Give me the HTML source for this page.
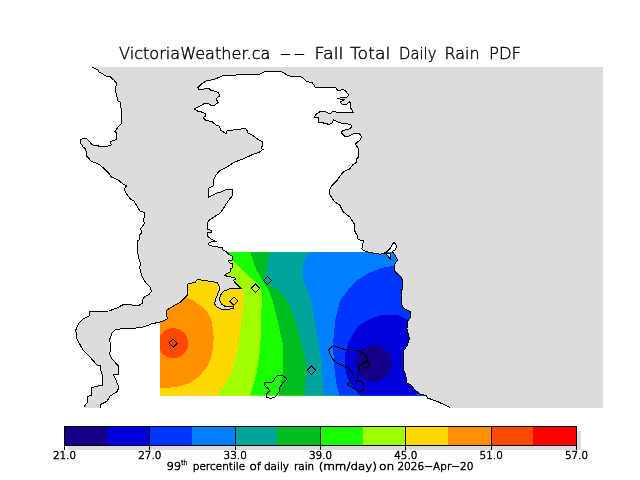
<!DOCTYPE html>
<html><head><meta charset="utf-8"><title>VictoriaWeather.ca</title>
<style>html,body{margin:0;padding:0;background:#fff;width:640px;height:480px;overflow:hidden}</style></head>
<body>
<svg width="640" height="480" viewBox="0 0 640 480" shape-rendering="crispEdges" style="position:absolute;left:0;top:0">
<defs><clipPath id="land"><polygon points="197.9,87.5 201.9,83.5 206.25,81 215,79.1 221.9,76 236.25,75 250,74.1 260,74.1 265,71.25 280.6,71.25 283.75,72.9 287.5,75.4 293.75,77 300,76.6 303.75,78.5 306.25,81.6 311.9,82.5 313.75,84.5 315,87.25 335.6,87.25 338.1,91 343.1,89.1 346.25,91.6 348.75,95.4 346.25,97.5 336.9,98.25 343.75,99.75 340,102.25 343.1,105 346.9,104.1 350,101.6 350.6,107.9 353.75,112.9 346.25,112.25 341.25,112.9 336.25,112.25 333.1,111 330,114.1 325.6,111.6 320,111.6 316.25,114.1 314.4,117.25 318.1,117.9 318.75,122.25 323.1,122.9 329.4,124.5 332.5,122.9 333.5,119.5 338.1,122.25 342.5,123.5 349.4,124.1 351.9,125.4 350.6,128.5 342.5,130.75 341.25,132.9 344.4,136 348.75,136.25 353.75,133.5 359.4,133.5 361.5,136.6 360,139.75 355.6,144.1 358.1,148.5 358.75,156.9 356.9,158.75 356.25,162.5 353.1,164.4 350,168.75 344.4,171.25 341.25,174.4 336.9,180.6 331.25,186.25 329.4,190.6 330,195 334.4,201.6 340,205.4 343.1,211.6 350,217.25 354.4,224.1 355,231.6 357.5,236 358.1,239.75 363.75,240.75 362.5,244.1 361.9,249.1 365.6,251.6 372.5,252.9 380,254.1 385,253.5 390,248.5 393.75,242.25 396.5,245.4 395.6,249.75 392,251.3 395.6,256 397.5,260.4 395.6,262.25 394.4,266 395,271.6 401.25,277.25 402.75,281.6 402.75,288.5 401,291 401.25,299.1 402.25,306.6 405,309.1 410.6,311.6 410.6,317.25 408.1,320.4 406.9,329.1 409.4,339.1 406.9,346 403.1,351.6 403.4,370 405.9,374.7 406.25,382.75 411,385 414.7,389.7 420.3,394.4 426,395.3 427.8,398.1 436.25,401 450.3,407.5 100,407.75 100.6,404.4 106.9,401.25 110,396.25 117.5,391.25 118.75,386.9 113.5,374.4 118.5,374.4 118.5,366.25 111.9,358.75 109.4,353.75 110.6,350 109.8,339.1 112.2,332.9 115.3,329.75 120,329 132.5,328.5 143.4,326.9 152.8,323.5 159.8,322.25 167.7,318.8 166.1,314.9 166.6,310.2 170,307.9 180,302.5 187.5,295 188,283.75 195,282.5 197.5,279.4 205,280.6 217.5,282.5 220,288.75 216.25,297.5 214.4,303.75 217.5,307.5 223.1,310 233.75,308.5 233.75,306.9 225,306.25 221.25,303.75 219.4,300 220.6,295 223.75,291.25 230,288.75 241.25,288.5 237.25,284.75 234.75,282.25 233.5,280.4 235.75,279.1 234.75,277.9 227.25,276.25 224.75,275.4 226.6,273.5 230.75,271.6 231,268.5 232.9,267.25 232.9,264.1 229.75,262.9 228.5,261 232.9,259.75 232.9,256.6 229.1,254.75 226,251.6 222.9,249.75 222.25,247.5 214.75,246.6 209.1,245.4 208.5,243.5 211.6,241.6 215.4,241.25 212.25,239.75 207.9,236.6 207.9,232.9 211.6,232.25 211.6,230.4 207.5,229.1 207.25,224.1 208.5,220.75 214.75,216.6 220.4,212.9 224.1,207.25 228.5,200.4 232.6,195.4 232.25,189.1 226.6,189.1 222.25,191.6 217.25,192.9 208.25,197.25 208.5,188.1 213.25,186 213.5,179.75 216,175 219.75,170.6 227.25,166.9 233.5,162.5 243.5,158.75 252.9,154.4 259.75,151.9 262.9,149.4 261,148.1 262.25,146.25 262.25,141.9 257.25,138.75 252.25,135 247.9,133.1 246.6,129.4 244.1,128.1 239.75,129.4 227.25,130.6 226,133.75 220.4,130 219.75,126.25 216,125 212.25,121.9 205.4,120 203.1,117.9 205.6,116 205,113.5 202.5,112.25 197.5,111 194.4,109.1 205,103.25 208.1,103.5 211.25,105.4 215,105 218.5,102.25 216.25,99.75 216.9,97.9 219.6,96 218.75,92.9 215.6,91.4 210.6,90.4 209.4,88.5 205.6,88.25 203.75,89.1 198.75,89.1 197.9,87.5"/></clipPath></defs>
<defs><clipPath id="box"><rect x="160" y="252" width="300" height="143.6"/></clipPath></defs>
<rect x="30" y="67" width="573" height="341" fill="#dcdcdc"/>
<polygon points="30,60 90.5,60 90.5,66 95,68.5 98,70 99,72 102,73.5 105,75.5 107,76.3 110.5,77 113.75,80 116.5,83.1 115.25,90 118.1,101.25 120,101.9 121.5,111.25 121.5,123.1 114.75,131.25 116.9,133.1 116.5,139.4 110.6,141.5 111.25,145 107.5,146.25 100,146.25 92.5,145 86.9,138.75 82.5,138.5 80.25,140 80.6,143.1 83.1,146.9 85.6,148.75 86.9,156.25 91.25,161.25 99.4,164.4 105,169.4 108.75,173.1 111.25,176.9 118.1,180 123.75,184.4 126.5,185.6 124.4,189.4 125.6,192.5 130.6,199.4 133.75,200.6 140,211.25 144.4,212.5 143.75,221.25 144.4,223.75 140.6,228.75 141.9,232.5 139.4,235 139.4,239.75 137.5,241 137.5,251 138.75,258.5 140.25,262.9 139.75,268.5 141.9,276 144.4,281 150,287.25 151.5,291 148.9,294.6 143.1,297.7 142.7,303.2 139.5,305 132.5,305 123.1,304.75 116.9,307.9 109,311 89.5,311.3 89.5,315.7 83.3,318.8 78.6,323.5 75.9,329.75 76.25,337.6 80.9,346.2 83.1,350 88.75,355.6 96.9,365 100.6,365.6 100,368.75 102.75,375.6 102.75,385 91.9,387.5 91.5,395 87.5,396.9 87.25,402.5 83.5,407.5 83.5,408 30,408" fill="#fff"/>
<polygon points="197.9,87.5 201.9,83.5 206.25,81 215,79.1 221.9,76 236.25,75 250,74.1 260,74.1 265,71.25 280.6,71.25 283.75,72.9 287.5,75.4 293.75,77 300,76.6 303.75,78.5 306.25,81.6 311.9,82.5 313.75,84.5 315,87.25 335.6,87.25 338.1,91 343.1,89.1 346.25,91.6 348.75,95.4 346.25,97.5 336.9,98.25 343.75,99.75 340,102.25 343.1,105 346.9,104.1 350,101.6 350.6,107.9 353.75,112.9 346.25,112.25 341.25,112.9 336.25,112.25 333.1,111 330,114.1 325.6,111.6 320,111.6 316.25,114.1 314.4,117.25 318.1,117.9 318.75,122.25 323.1,122.9 329.4,124.5 332.5,122.9 333.5,119.5 338.1,122.25 342.5,123.5 349.4,124.1 351.9,125.4 350.6,128.5 342.5,130.75 341.25,132.9 344.4,136 348.75,136.25 353.75,133.5 359.4,133.5 361.5,136.6 360,139.75 355.6,144.1 358.1,148.5 358.75,156.9 356.9,158.75 356.25,162.5 353.1,164.4 350,168.75 344.4,171.25 341.25,174.4 336.9,180.6 331.25,186.25 329.4,190.6 330,195 334.4,201.6 340,205.4 343.1,211.6 350,217.25 354.4,224.1 355,231.6 357.5,236 358.1,239.75 363.75,240.75 362.5,244.1 361.9,249.1 365.6,251.6 372.5,252.9 380,254.1 385,253.5 390,248.5 393.75,242.25 396.5,245.4 395.6,249.75 392,251.3 395.6,256 397.5,260.4 395.6,262.25 394.4,266 395,271.6 401.25,277.25 402.75,281.6 402.75,288.5 401,291 401.25,299.1 402.25,306.6 405,309.1 410.6,311.6 410.6,317.25 408.1,320.4 406.9,329.1 409.4,339.1 406.9,346 403.1,351.6 403.4,370 405.9,374.7 406.25,382.75 411,385 414.7,389.7 420.3,394.4 426,395.3 427.8,398.1 436.25,401 450.3,407.5 100,407.75 100.6,404.4 106.9,401.25 110,396.25 117.5,391.25 118.75,386.9 113.5,374.4 118.5,374.4 118.5,366.25 111.9,358.75 109.4,353.75 110.6,350 109.8,339.1 112.2,332.9 115.3,329.75 120,329 132.5,328.5 143.4,326.9 152.8,323.5 159.8,322.25 167.7,318.8 166.1,314.9 166.6,310.2 170,307.9 180,302.5 187.5,295 188,283.75 195,282.5 197.5,279.4 205,280.6 217.5,282.5 220,288.75 216.25,297.5 214.4,303.75 217.5,307.5 223.1,310 233.75,308.5 233.75,306.9 225,306.25 221.25,303.75 219.4,300 220.6,295 223.75,291.25 230,288.75 241.25,288.5 237.25,284.75 234.75,282.25 233.5,280.4 235.75,279.1 234.75,277.9 227.25,276.25 224.75,275.4 226.6,273.5 230.75,271.6 231,268.5 232.9,267.25 232.9,264.1 229.75,262.9 228.5,261 232.9,259.75 232.9,256.6 229.1,254.75 226,251.6 222.9,249.75 222.25,247.5 214.75,246.6 209.1,245.4 208.5,243.5 211.6,241.6 215.4,241.25 212.25,239.75 207.9,236.6 207.9,232.9 211.6,232.25 211.6,230.4 207.5,229.1 207.25,224.1 208.5,220.75 214.75,216.6 220.4,212.9 224.1,207.25 228.5,200.4 232.6,195.4 232.25,189.1 226.6,189.1 222.25,191.6 217.25,192.9 208.25,197.25 208.5,188.1 213.25,186 213.5,179.75 216,175 219.75,170.6 227.25,166.9 233.5,162.5 243.5,158.75 252.9,154.4 259.75,151.9 262.9,149.4 261,148.1 262.25,146.25 262.25,141.9 257.25,138.75 252.25,135 247.9,133.1 246.6,129.4 244.1,128.1 239.75,129.4 227.25,130.6 226,133.75 220.4,130 219.75,126.25 216,125 212.25,121.9 205.4,120 203.1,117.9 205.6,116 205,113.5 202.5,112.25 197.5,111 194.4,109.1 205,103.25 208.1,103.5 211.25,105.4 215,105 218.5,102.25 216.25,99.75 216.9,97.9 219.6,96 218.75,92.9 215.6,91.4 210.6,90.4 209.4,88.5 205.6,88.25 203.75,89.1 198.75,89.1 197.9,87.5" fill="#fff"/>
<g clip-path="url(#land)"><g clip-path="url(#box)">
<rect x="160" y="252" width="300" height="143.5" fill="#ff9000"/>
<circle cx="173.25" cy="343.25" r="15" fill="#ff4800"/>
<polygon points="186,297 192.5,300 201.25,306.25 207.5,312.5 211.25,320 213,330 213.75,337.5 213,348 211.25,357.5 207.5,366 202.5,372.5 197.5,377.5 192.5,381.25 186,384.3 180,386.25 170,387.6 160,388 160,396 455,396 455,250 186,250" fill="#ffd800"/>
<polygon points="241.25,288.25 243.5,294 243.75,300 242.5,310 241.25,320 238.75,345 232.5,370 225,385 217,395.5 217,396 455,396 455,250 225,250 225,288" fill="#a0ff00"/>
<polygon points="233.1,260.5 238.75,266.75 247.5,274.9 255,281.75 260,286.1 261.5,293 261.9,300.5 261.5,308 261.25,325 260,350 256.25,375 250,395.5 250,396 455,396 455,250 225,250 225,260.5" fill="#18ff00"/>
<polygon points="250,252 252.5,259.25 256.25,269.25 261.25,278.6 265,284.25 268.75,290.5 272.5,300.5 274.4,308 277.5,320 282.5,342.5 283.3,360 282.75,372.5 280.6,385 279,395.6 279,396 455,396 455,250 250,250" fill="#00be20"/>
<polygon points="270,252 268.5,258 267.25,265 266,273.75 264.3,279.4 266,282.5 272.25,286.25 278.5,290 284.75,297.5 287.3,300 295.6,320.8 300.8,341.7 306,362.5 305.4,383 304,395.5 304,396 455,396 455,250 270,250" fill="#00a49a"/>
<polygon points="309.5,252 305,260 302.5,270 303.5,280 307.5,290 311.25,300 314.4,320.8 318.5,341.7 321.7,362.5 322.7,383 322.7,395.6 322.7,396 455,396 455,250 309.5,250" fill="#0080ff"/>
<polygon points="394.4,265.6 381.25,268.1 368.75,273.1 357.5,280 350,287.5 340.4,300 335.2,320.8 333.1,341.7 333.75,362.5 336.25,383.3 339.4,395.6 339.4,396 455,396 455,250 455,265.6" fill="#0036ff"/>
<polygon points="407.5,320 397.5,315 382.5,314.5 367.5,320 358,326 353,334 348.75,341.7 345.5,352 344.6,362.5 346.5,375 350,383 353.75,388 360,395.6 360,396 455,396 455,250 455,320" fill="#0000dc"/>
<circle cx="373.6" cy="363.5" r="18.3" fill="#140088"/>
<polygon points="414,396 416,393.5 425,395 426,396" fill="#0036ff"/>
</g></g>
<polyline points="100,407.75 100.6,404.4 106.9,401.25 110,396.25 117.5,391.25 118.75,386.9 113.5,374.4 118.5,374.4 118.5,366.25 111.9,358.75 109.4,353.75 110.6,350 109.8,339.1 112.2,332.9 115.3,329.75 120,329 132.5,328.5 143.4,326.9 152.8,323.5 159.8,322.25 167.7,318.8 166.1,314.9 166.6,310.2 170,307.9 180,302.5 187.5,295 188,283.75 195,282.5 197.5,279.4 205,280.6 217.5,282.5 220,288.75 216.25,297.5 214.4,303.75 217.5,307.5 223.1,310 233.75,308.5 233.75,306.9 225,306.25 221.25,303.75 219.4,300 220.6,295 223.75,291.25 230,288.75 241.25,288.5 237.25,284.75 234.75,282.25 233.5,280.4 235.75,279.1 234.75,277.9 227.25,276.25 224.75,275.4 226.6,273.5 230.75,271.6 231,268.5 232.9,267.25 232.9,264.1 229.75,262.9 228.5,261 232.9,259.75 232.9,256.6 229.1,254.75 226,251.6 222.9,249.75 222.25,247.5 214.75,246.6 209.1,245.4 208.5,243.5 211.6,241.6 215.4,241.25 212.25,239.75 207.9,236.6 207.9,232.9 211.6,232.25 211.6,230.4 207.5,229.1 207.25,224.1 208.5,220.75 214.75,216.6 220.4,212.9 224.1,207.25 228.5,200.4 232.6,195.4 232.25,189.1 226.6,189.1 222.25,191.6 217.25,192.9 208.25,197.25 208.5,188.1 213.25,186 213.5,179.75 216,175 219.75,170.6 227.25,166.9 233.5,162.5 243.5,158.75 252.9,154.4 259.75,151.9 262.9,149.4 261,148.1 262.25,146.25 262.25,141.9 257.25,138.75 252.25,135 247.9,133.1 246.6,129.4 244.1,128.1 239.75,129.4 227.25,130.6 226,133.75 220.4,130 219.75,126.25 216,125 212.25,121.9 205.4,120 203.1,117.9 205.6,116 205,113.5 202.5,112.25 197.5,111 194.4,109.1 205,103.25 208.1,103.5 211.25,105.4 215,105 218.5,102.25 216.25,99.75 216.9,97.9 219.6,96 218.75,92.9 215.6,91.4 210.6,90.4 209.4,88.5 205.6,88.25 203.75,89.1 198.75,89.1 197.9,87.5 197.9,87.5 201.9,83.5 206.25,81 215,79.1 221.9,76 236.25,75 250,74.1 260,74.1 265,71.25 280.6,71.25 283.75,72.9 287.5,75.4 293.75,77 300,76.6 303.75,78.5 306.25,81.6 311.9,82.5 313.75,84.5 315,87.25 335.6,87.25 338.1,91 343.1,89.1 346.25,91.6 348.75,95.4 346.25,97.5 336.9,98.25 343.75,99.75 340,102.25 343.1,105 346.9,104.1 350,101.6 350.6,107.9 353.75,112.9 346.25,112.25 341.25,112.9 336.25,112.25 333.1,111 330,114.1 325.6,111.6 320,111.6 316.25,114.1 314.4,117.25 318.1,117.9 318.75,122.25 323.1,122.9 329.4,124.5 332.5,122.9 333.5,119.5 338.1,122.25 342.5,123.5 349.4,124.1 351.9,125.4 350.6,128.5 342.5,130.75 341.25,132.9 344.4,136 348.75,136.25 353.75,133.5 359.4,133.5 361.5,136.6 360,139.75 355.6,144.1 358.1,148.5 358.75,156.9 356.9,158.75 356.25,162.5 353.1,164.4 350,168.75 344.4,171.25 341.25,174.4 336.9,180.6 331.25,186.25 329.4,190.6 330,195 334.4,201.6 340,205.4 343.1,211.6 350,217.25 354.4,224.1 355,231.6 357.5,236 358.1,239.75 363.75,240.75 362.5,244.1 361.9,249.1 365.6,251.6 372.5,252.9 380,254.1 385,253.5 390,248.5 393.75,242.25 396.5,245.4 395.6,249.75 392,251.3 395.6,256 397.5,260.4 395.6,262.25 394.4,266 395,271.6 401.25,277.25 402.75,281.6 402.75,288.5 401,291 401.25,299.1 402.25,306.6 405,309.1 410.6,311.6 410.6,317.25 408.1,320.4 406.9,329.1 409.4,339.1 406.9,346 403.1,351.6 403.4,370 405.9,374.7 406.25,382.75 411,385 414.7,389.7 420.3,394.4 426,395.3 427.8,398.1 436.25,401 450.3,407.5" fill="none" stroke="#000" stroke-width="1"/>
<polyline points="90.5,66 95,68.5 98,70 99,72 102,73.5 105,75.5 107,76.3 110.5,77 113.75,80 116.5,83.1 115.25,90 118.1,101.25 120,101.9 121.5,111.25 121.5,123.1 114.75,131.25 116.9,133.1 116.5,139.4 110.6,141.5 111.25,145 107.5,146.25 100,146.25 92.5,145 86.9,138.75 82.5,138.5 80.25,140 80.6,143.1 83.1,146.9 85.6,148.75 86.9,156.25 91.25,161.25 99.4,164.4 105,169.4 108.75,173.1 111.25,176.9 118.1,180 123.75,184.4 126.5,185.6 124.4,189.4 125.6,192.5 130.6,199.4 133.75,200.6 140,211.25 144.4,212.5 143.75,221.25 144.4,223.75 140.6,228.75 141.9,232.5 139.4,235 139.4,239.75 137.5,241 137.5,251 138.75,258.5 140.25,262.9 139.75,268.5 141.9,276 144.4,281 150,287.25 151.5,291 148.9,294.6 143.1,297.7 142.7,303.2 139.5,305 132.5,305 123.1,304.75 116.9,307.9 109,311 89.5,311.3 89.5,315.7 83.3,318.8 78.6,323.5 75.9,329.75 76.25,337.6 80.9,346.2 83.1,350 88.75,355.6 96.9,365 100.6,365.6 100,368.75 102.75,375.6 102.75,385 91.9,387.5 91.5,395 87.5,396.9 87.25,402.5 83.5,407.5" fill="none" stroke="#000" stroke-width="1"/>
<polygon points="328.75,349.7 333.4,345.4 338,347.25 345.6,349.7 357.8,350.25 361.6,352 366.25,356.25 367.6,361 363.4,363.75 359.7,365.6 358.75,371.25 356.9,380.6 361.6,381.6 364.4,385.3 363.4,390 360.6,391.9 356,389.6 347.5,384.4 350.3,379.7 353.1,374 347.5,367.5 338.1,363.75 332.5,359 329.7,353.4" fill="none" stroke="#000" stroke-width="1"/>
<polygon points="264.4,383.1 265,386.25 268.75,388.75 269.4,391.25 266.25,394.4 266.9,397.5 270.6,398.5 275.6,396.9 279.4,391.25 280,386.9 283.1,382.5 286.25,380 286.5,378.1 281.9,375.6 277.5,375.6 275,378.1 273.1,381.9 268.75,382.5 265.6,382.5" fill="none" stroke="#000" stroke-width="1"/>
<polygon points="385.6,253.1 390.25,259 390.25,253.75" fill="#e8e8e8" stroke="#000" stroke-width="1"/>
<polyline points="355,382 357.5,380.3 360,380" fill="none" stroke="#000"/>
<polygon points="263.3,280.5 267.5,276.3 271.7,280.5 267.5,284.7" fill="none" stroke="#000" stroke-width="1"/>
<polygon points="251.3,288.25 255.5,284.05 259.7,288.25 255.5,292.45" fill="none" stroke="#000" stroke-width="1"/>
<polygon points="229.55,301.25 233.75,297.05 237.95,301.25 233.75,305.45" fill="none" stroke="#000" stroke-width="1"/>
<polygon points="169.05,343.25 173.25,339.05 177.45,343.25 173.25,347.45" fill="none" stroke="#000" stroke-width="1"/>
<polygon points="307.3,370.3 311.5,366.1 315.7,370.3 311.5,374.5" fill="none" stroke="#000" stroke-width="1"/>
<polygon points="361.5,364.6 365.7,360.4 369.9,364.6 365.7,368.8" fill="none" stroke="#000" stroke-width="1"/>
<rect x="0" y="408" width="640" height="72" fill="#fff"/>
<rect x="0" y="0" width="640" height="67" fill="#fff"/>
<rect x="68" y="431" width="513" height="19" fill="#dcdcdc"/>
<rect x="64.00" y="426" width="43.17" height="20" fill="#140088"/>
<rect x="106.67" y="426" width="43.17" height="20" fill="#0000dc"/>
<rect x="149.33" y="426" width="43.17" height="20" fill="#0036ff"/>
<rect x="192.00" y="426" width="43.17" height="20" fill="#0080ff"/>
<rect x="234.67" y="426" width="43.17" height="20" fill="#00a49a"/>
<rect x="277.33" y="426" width="43.17" height="20" fill="#00be20"/>
<rect x="320.00" y="426" width="43.17" height="20" fill="#18ff00"/>
<rect x="362.67" y="426" width="43.17" height="20" fill="#a0ff00"/>
<rect x="405.33" y="426" width="43.17" height="20" fill="#ffd800"/>
<rect x="448.00" y="426" width="43.17" height="20" fill="#ff9000"/>
<rect x="490.67" y="426" width="43.17" height="20" fill="#ff4800"/>
<rect x="533.33" y="426" width="43.17" height="20" fill="#ff0000"/>
<rect x="64.5" y="426.5" width="512" height="19" fill="none" stroke="#000" stroke-width="1"/>
<rect x="64" y="426" width="1" height="24" fill="#000"/>
<rect x="149" y="426" width="1" height="24" fill="#000"/>
<rect x="235" y="426" width="1" height="24" fill="#000"/>
<rect x="320" y="426" width="1" height="24" fill="#000"/>
<rect x="405" y="426" width="1" height="24" fill="#000"/>
<rect x="491" y="426" width="1" height="24" fill="#000"/>
<rect x="576" y="426" width="1" height="24" fill="#000"/>
<g style="filter:grayscale(1)">
<text x="64.5" y="459" text-anchor="middle" font-size="11" stroke-width="0.6" font-family="DejaVu Sans Light, DejaVu Sans, Liberation Sans, sans-serif" font-weight="200" stroke="#000" textLength="23.2" lengthAdjust="spacingAndGlyphs">21.0</text>
<text x="149.8" y="459" text-anchor="middle" font-size="11" stroke-width="0.6" font-family="DejaVu Sans Light, DejaVu Sans, Liberation Sans, sans-serif" font-weight="200" stroke="#000" textLength="23.2" lengthAdjust="spacingAndGlyphs">27.0</text>
<text x="235.2" y="459" text-anchor="middle" font-size="11" stroke-width="0.6" font-family="DejaVu Sans Light, DejaVu Sans, Liberation Sans, sans-serif" font-weight="200" stroke="#000" textLength="23.2" lengthAdjust="spacingAndGlyphs">33.0</text>
<text x="320.5" y="459" text-anchor="middle" font-size="11" stroke-width="0.6" font-family="DejaVu Sans Light, DejaVu Sans, Liberation Sans, sans-serif" font-weight="200" stroke="#000" textLength="23.2" lengthAdjust="spacingAndGlyphs">39.0</text>
<text x="405.8" y="459" text-anchor="middle" font-size="11" stroke-width="0.6" font-family="DejaVu Sans Light, DejaVu Sans, Liberation Sans, sans-serif" font-weight="200" stroke="#000" textLength="23.2" lengthAdjust="spacingAndGlyphs">45.0</text>
<text x="491.2" y="459" text-anchor="middle" font-size="11" stroke-width="0.6" font-family="DejaVu Sans Light, DejaVu Sans, Liberation Sans, sans-serif" font-weight="200" stroke="#000" textLength="23.2" lengthAdjust="spacingAndGlyphs">51.0</text>
<text x="576.5" y="459" text-anchor="middle" font-size="11" stroke-width="0.6" font-family="DejaVu Sans Light, DejaVu Sans, Liberation Sans, sans-serif" font-weight="200" stroke="#000" textLength="23.2" lengthAdjust="spacingAndGlyphs">57.0</text>
<text x="166.5" y="470" font-size="11" stroke-width="0.6" font-family="DejaVu Sans Light, DejaVu Sans, Liberation Sans, sans-serif" font-weight="200" stroke="#000" textLength="14.5" lengthAdjust="spacingAndGlyphs">99</text>
<text x="192.75" y="470" font-size="11" stroke-width="0.6" font-family="DejaVu Sans Light, DejaVu Sans, Liberation Sans, sans-serif" font-weight="200" stroke="#000" textLength="52.5" lengthAdjust="spacingAndGlyphs">percentile</text>
<text x="249.5" y="470" font-size="11" stroke-width="0.6" font-family="DejaVu Sans Light, DejaVu Sans, Liberation Sans, sans-serif" font-weight="200" stroke="#000" textLength="11.5" lengthAdjust="spacingAndGlyphs">of</text>
<text x="264" y="470" font-size="11" stroke-width="0.6" font-family="DejaVu Sans Light, DejaVu Sans, Liberation Sans, sans-serif" font-weight="200" stroke="#000" textLength="25" lengthAdjust="spacingAndGlyphs">daily</text>
<text x="294" y="470" font-size="11" stroke-width="0.6" font-family="DejaVu Sans Light, DejaVu Sans, Liberation Sans, sans-serif" font-weight="200" stroke="#000" textLength="20.2" lengthAdjust="spacingAndGlyphs">rain</text>
<text x="318.7" y="470" font-size="11" stroke-width="0.6" font-family="DejaVu Sans Light, DejaVu Sans, Liberation Sans, sans-serif" font-weight="200" stroke="#000" textLength="58.2" lengthAdjust="spacingAndGlyphs">(mm/day)</text>
<text x="379" y="470" font-size="11" stroke-width="0.6" font-family="DejaVu Sans Light, DejaVu Sans, Liberation Sans, sans-serif" font-weight="200" stroke="#000" textLength="15.3" lengthAdjust="spacingAndGlyphs">on</text>
<text x="397.4" y="470" font-size="11" stroke-width="0.6" font-family="DejaVu Sans Light, DejaVu Sans, Liberation Sans, sans-serif" font-weight="200" stroke="#000" textLength="76.1" lengthAdjust="spacingAndGlyphs">2026−Apr−20</text>
<text x="181.25" y="465" font-size="7" stroke-width="0.6" font-family="DejaVu Sans Light, DejaVu Sans, Liberation Sans, sans-serif" font-weight="200" stroke="#000" textLength="5.75" lengthAdjust="spacingAndGlyphs">th</text>
<text x="119" y="59" font-size="16.2" stroke-width="0.42" font-family="DejaVu Sans Light, DejaVu Sans, Liberation Sans, sans-serif" font-weight="200" stroke="#000" textLength="151.5" lengthAdjust="spacingAndGlyphs">VictoriaWeather.ca</text>
<text x="280" y="59" font-size="16.2" stroke-width="0.42" font-family="DejaVu Sans Light, DejaVu Sans, Liberation Sans, sans-serif" font-weight="200" stroke="#000" textLength="11" lengthAdjust="spacingAndGlyphs">–</text>
<text x="294" y="59" font-size="16.2" stroke-width="0.42" font-family="DejaVu Sans Light, DejaVu Sans, Liberation Sans, sans-serif" font-weight="200" stroke="#000" textLength="11" lengthAdjust="spacingAndGlyphs">–</text>
<text x="314.5" y="59" font-size="16.2" stroke-width="0.42" font-family="DejaVu Sans Light, DejaVu Sans, Liberation Sans, sans-serif" font-weight="200" stroke="#000" textLength="29" lengthAdjust="spacingAndGlyphs">Fall</text>
<text x="350" y="59" font-size="16.2" stroke-width="0.42" font-family="DejaVu Sans Light, DejaVu Sans, Liberation Sans, sans-serif" font-weight="200" stroke="#000" textLength="40.25" lengthAdjust="spacingAndGlyphs">Total</text>
<text x="399" y="59" font-size="16.2" stroke-width="0.42" font-family="DejaVu Sans Light, DejaVu Sans, Liberation Sans, sans-serif" font-weight="200" stroke="#000" textLength="37.5" lengthAdjust="spacingAndGlyphs">Daily</text>
<text x="444.5" y="59" font-size="16.2" stroke-width="0.42" font-family="DejaVu Sans Light, DejaVu Sans, Liberation Sans, sans-serif" font-weight="200" stroke="#000" textLength="35" lengthAdjust="spacingAndGlyphs">Rain</text>
<text x="489" y="59" font-size="16.2" stroke-width="0.42" font-family="DejaVu Sans Light, DejaVu Sans, Liberation Sans, sans-serif" font-weight="200" stroke="#000" textLength="32" lengthAdjust="spacingAndGlyphs">PDF</text>
</g>
</svg>
</body></html>
